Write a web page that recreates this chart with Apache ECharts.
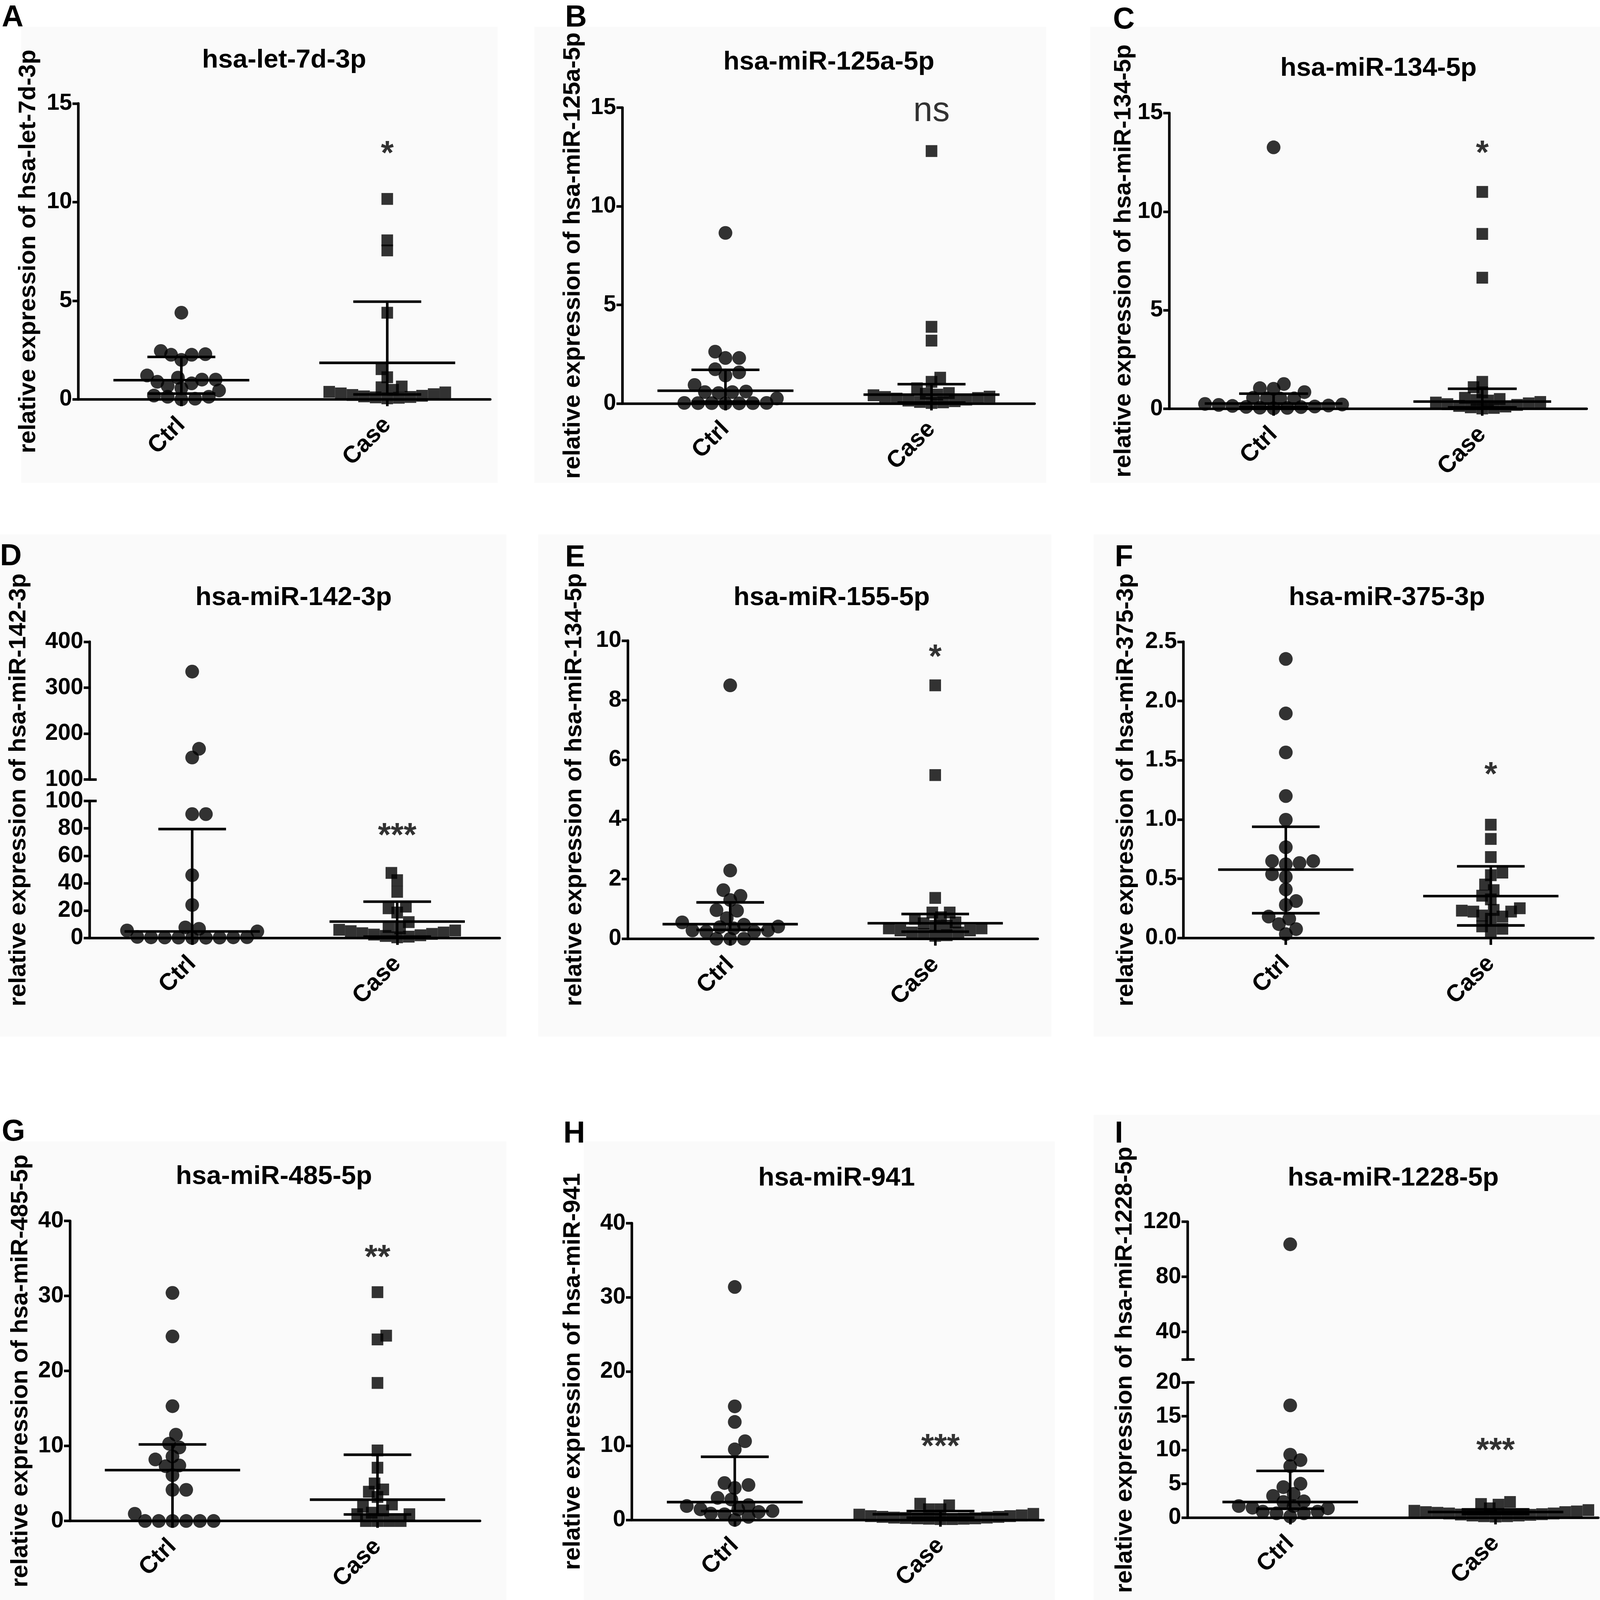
<!DOCTYPE html>
<html>
<head>
<meta charset="utf-8">
<script src="https://cdn.jsdelivr.net/npm/echarts@6/dist/echarts.min.js"></script>
<style>
  html, body { margin: 0; padding: 0; background: #fff; overflow: hidden; }
  #chart { width: 100vw; height: 100vh; }
</style>
</head>
<body>
<div id="chart"></div>
<script>
// ===== data =====
const groups = ['Ctrl', 'Case'];
const letters = ['A', 'B', 'C', 'D', 'E', 'F', 'G', 'H', 'I'];
const titles = ['hsa-let-7d-3p', 'hsa-miR-125a-5p', 'hsa-miR-134-5p', 'hsa-miR-142-3p', 'hsa-miR-155-5p',
                'hsa-miR-375-3p', 'hsa-miR-485-5p', 'hsa-miR-941', 'hsa-miR-1228-5p'];
const yNames = ['relative expression of hsa-let-7d-3p', 'relative expression of hsa-miR-125a-5p',
                'relative expression of hsa-miR-134-5p', 'relative expression of hsa-miR-142-3p',
                'relative expression of hsa-miR-134-5p', 'relative expression of hsa-miR-375-3p',
                'relative expression of hsa-miR-485-5p', 'relative expression of hsa-miR-941',
                'relative expression of hsa-miR-1228-5p'];

const ctrlA = [4.39, 2.45, 2.26, 2.0, 2.26, 2.29, 1.21, 1.0, 1.0, 1.1, 0.81, 0.56, 0.45, 0.68, 0.89, 0.19, 0.13, 0.0, 0.03, 0.13];
const caseA = [10.16, 8.06, 7.55, 4.39, 1.53, 1.12, 0.61, 0.65, 0.48, 0.38, 0.3, 0.22, 0.15, 0.1, 0.05, 0.08, 0.12, 0.18, 0.26, 0.35];
const barsA = [[0.29, 0.97, 2.15], [0.25, 1.85, 4.95]];

const ctrlB = [8.65, 2.63, 2.31, 2.31, 1.74, 1.58, 1.42, 0.94, 0.58, 0.53, 0.58, 0.61, 0.26, 0.02, 0.03, 0.01, 0.02, 0.03, 0.02, 0.01];
const caseB = [12.8, 3.89, 3.19, 1.31, 1.1, 0.77, 0.53, 0.5, 0.42, 0.35, 0.28, 0.2, 0.12, 0.06, 0.03, 0.08, 0.15, 0.25, 0.33, 0.45];
const barsB = [[0.1, 0.65, 1.71], [0.05, 0.45, 0.98]];

const ctrlC = [13.26, 1.26, 1.05, 1.02, 0.85, 0.56, 0.52, 0.53, 0.53, 0.25, 0.2, 0.15, 0.1, 0.06, 0.03, 0.05, 0.09, 0.12, 0.17, 0.22];
const caseC = [11.0, 8.87, 6.65, 1.37, 1.1, 0.84, 0.56, 0.5, 0.42, 0.35, 0.28, 0.2, 0.12, 0.05, 0.02, 0.08, 0.15, 0.24, 0.32, 0.45];
const barsC = [[0.1, 0.27, 0.77], [0.08, 0.37, 1.02]];

const ctrlD = [335, 148, 167, 90.4, 90.4, 45.8, 24.1, 7.7, 5.5, 6.7, 4.8, 0.3, 0.5, 0.4, 0.2, 0.1, 0.3, 0.5, 0.6, 0.8];
const caseD = [47.5, 42.2, 33.7, 21.7, 22.9, 18.6, 11.6, 8.0, 5.5, 7.0, 6.0, 5.0, 4.0, 3.0, 2.0, 1.0, 0.5, 1.5, 2.5, 3.5];
const barsD = [[0, 4.8, 79.5], [1, 12, 26.5]];

const ctrlE = [8.5, 2.29, 1.63, 1.44, 1.3, 0.94, 0.96, 0.69, 0.47, 0.39, 0.55, 0.41, 0.28, 0.24, 0.28, 0.35, 0.24, 0.0, 0.0, 0.0];
const caseE = [8.5, 5.49, 1.37, 0.88, 0.88, 0.72, 0.67, 0.55, 0.44, 0.35, 0.28, 0.21, 0.16, 0.1, 0.12, 0.21, 0.28, 0.35, 0.43, 0.52];
const barsE = [[0.3, 0.49, 1.22], [0.24, 0.52, 0.83]];

const ctrlF = [2.355, 1.895, 1.566, 1.198, 0.998, 0.766, 0.649, 0.633, 0.622, 0.649, 0.538, 0.516, 0.41, 0.279, 0.312, 0.181, 0.162, 0.117, 0.075, 0.033];
const caseF = [0.956, 0.836, 0.683, 0.53, 0.552, 0.451, 0.404, 0.326, 0.357, 0.237, 0.223, 0.231, 0.223, 0.251, 0.181, 0.162, 0.19, 0.098, 0.078, 0.056];
const barsF = [[0.209, 0.577, 0.939], [0.106, 0.354, 0.605]];

const ctrlG = [30.4, 24.6, 15.3, 11.5, 10.3, 9.8, 8.2, 8.6, 7.3, 7.4, 6.1, 4.15, 4.15, 0.96, 0, 0, 0, 0, 0, 0];
const caseG = [30.5, 24.2, 24.7, 18.4, 9.4, 7.1, 5.0, 3.9, 4.2, 3.2, 1.9, 2.2, 1.1, 0.9, 0.9, 1.4, 0, 0, 0, 0];
const barsG = [[0, 6.78, 10.2], [0.87, 2.84, 8.83]];

const ctrlH = [31.4, 15.3, 13.2, 10.6, 9.5, 4.7, 4.96, 4.3, 2.96, 2.74, 1.86, 1.99, 1.42, 1.06, 0.75, 0.84, 1.19, 1.42, 0, 0.4];
const caseH = [1.42, 1.95, 2.17, 1.42, 0.8, 0.6, 0.5, 0.4, 0.3, 0.25, 0.2, 0.15, 0.1, 0.1, 0.15, 0.2, 0.3, 0.4, 0.5, 0.7];
const barsH = [[1.19, 2.39, 8.5], [0.3, 0.75, 1.19]];

const ctrlI = [103.6, 16.6, 9.3, 8.5, 7.6, 5.0, 4.5, 3.5, 3.2, 2.4, 2.3, 1.7, 1.45, 1.36, 1.7, 0.87, 0.63, 0.63, 0.87, 0.15];
const caseI = [1.36, 2.0, 2.3, 1.9, 1.0, 0.9, 0.8, 0.7, 0.6, 0.5, 0.4, 0.3, 0.2, 0.15, 0.2, 0.3, 0.45, 0.6, 0.8, 1.1];
const barsI = [[1.3, 2.3, 6.9], [0.5, 0.82, 1.2]];

const sigLabels = ['*', 'ns', '*', '***', '*', '*', '**', '***', '***'];
const sigValues = [12.8, 14.65, 13.3, 79.5, 9.67, 1.435, 36, 10.8, 10.9];

// y axis: [min, max, interval] of the main (lower) segment
const yAxisMain = [[0, 15, 5], [0, 15, 5], [0, 15, 5], [0, 100, 20], [0, 10, 2], [0, 2.5, 0.5], [0, 40, 10], [0, 40, 10], [0, 20, 5]];
// upper segments of the broken axes
const upperD = [100, 400, 100];
const upperI = [20, 120];
const upperTicksI = [20, 40, 80, 120];
const upperLabelsI = [40, 80, 120];

// ===== layout (reference pixels, scaled to the window) =====
const REF_W = 4550, REF_H = 4191;
const el = document.getElementById('chart');
const kx = (el.clientWidth || REF_W) / REF_W;
const ky = (el.clientHeight || REF_H) / REF_H;
const k = Math.sqrt(kx * ky);
const X = v => v * kx, Y = v => v * ky, S = v => v * k;

const FONT = '"Liberation Sans", Arial, Helvetica, sans-serif';
const LW = S(7);
const DOT_W = X(39), DOT_H = Y(36);
const SQ_W = X(33), SQ_H = Y(31);
const MID_HALF = 0.33, CAP_HALF = 0.165;

const panels = [
  { ctrl: ctrlA, cas: caseA, bars: barsA, grid: [223, 271, 1171, 775], nameGap: 108, title: [808, 158], letter: [5, 8], bg: [60, 70, 1355, 1195] },
  { ctrl: ctrlB, cas: caseB, bars: barsB, grid: [1770, 282, 1172, 775], nameGap: 106, title: [2357, 163], letter: [1607, 8], bg: [1520, 70, 1455, 1195] },
  { ctrl: ctrlC, cas: caseC, bars: barsC, grid: [3325, 296, 1187, 775], nameGap: 90, title: [3920, 179], letter: [3165, 14], bg: [3100, 70, 1450, 1195] },
  { ctrl: ctrlD, cas: caseD, bars: barsD, grid: [255, 2098, 1166, 359], upper: [255, 1681, 1166, 361], upRange: upperD, brk: 100,
    nameAt: [53, 2069], title: [835, 1566], letter: [0, 1419], bg: [0, 1400, 1440, 1315] },
  { ctrl: ctrlE, cas: caseE, bars: barsE, grid: [1785, 1678, 1166, 781], nameGap: 116, title: [2365, 1566], letter: [1607, 1423], bg: [1530, 1400, 1460, 1315] },
  { ctrl: ctrlF, cas: caseF, bars: barsF, grid: [3365, 1681, 1166, 776], nameGap: 128, title: [3944, 1566], letter: [3170, 1423], bg: [3110, 1400, 1440, 1315], fixed: 1 },
  { ctrl: ctrlG, cas: caseG, bars: barsG, grid: [199, 3198, 1166, 786], nameGap: 106, title: [779, 3082], letter: [5, 2927], bg: [0, 2990, 1440, 1201] },
  { ctrl: ctrlH, cas: caseH, bars: barsH, grid: [1797, 3204, 1170, 777], nameGap: 133, title: [2379, 3086], letter: [1602, 2932], bg: [1660, 2990, 1340, 1201] },
  { ctrl: ctrlI, cas: caseI, bars: barsI, grid: [3377, 3621, 1168, 354], upper: [3377, 3200, 1168, 361], upRange: upperI, brk: 20,
    nameAt: [3199, 3588], title: [3962, 3086], letter: [3170, 2932], bg: [3110, 2920, 1440, 1271] },
];

const option = {
  animation: false,
  backgroundColor: '#ffffff',
  textStyle: { fontFamily: FONT },
  grid: [], xAxis: [], yAxis: [], series: [], graphic: []
};

const blackLine = { color: '#000', width: LW };
const tickFont = { color: '#000', fontSize: X(65), fontWeight: 'bold', fontFamily: FONT };
const yNameFont = { color: '#000', fontSize: Y(63), fontWeight: 'bold', fontFamily: FONT };

// Prism-like column scatter: lowest values in the middle, pushed sideways on collision
function swarm(values, gx, pxPerY, pxPerX, w, h) {
  const order = values.map((v, i) => i).sort((a, b) => values[a] - values[b]);
  const placed = [];
  const pts = [];
  order.forEach(i => {
    const py = values[i] * pxPerY;
    const right = placed.filter(p => p.x > 1).length;
    const left = placed.filter(p => p.x < -1).length;
    const sign = right > left ? -1 : 1;
    let chosen = 0;
    for (let n = 0; n < 160; n++) {
      const m = Math.ceil(n / 2) * (n % 2 ? 1 : -1) * sign;
      const cx = m * w / 4;
      const hit = placed.some(p => ((p.x - cx) / w) ** 2 + ((p.y - py) / h) ** 2 < 0.62);
      if (!hit) { chosen = cx; break; }
    }
    placed.push({ x: chosen, y: py });
    pts.push([gx + chosen / pxPerX, values[i]]);
  });
  return pts;
}

function renderBars(params, api) {
  const x = api.value(0), lo = api.value(1), mid = api.value(2), hi = api.value(3);
  const seg = (x1, v1, x2, v2) => {
    const a = api.coord([x1, v1]), b = api.coord([x2, v2]);
    return { type: 'line', shape: { x1: a[0], y1: a[1], x2: b[0], y2: b[1] }, style: { stroke: '#000', lineWidth: LW } };
  };
  return {
    type: 'group',
    children: [
      seg(x, lo, x, hi),
      seg(x - MID_HALF, mid, x + MID_HALF, mid),
      seg(x - CAP_HALF, hi, x + CAP_HALF, hi),
      seg(x - CAP_HALF, lo, x + CAP_HALF, lo)
    ]
  };
}

// short inward stroke where an axis is broken
function renderBreak(params, api) {
  const p = api.coord([0.5, api.value(0)]);
  return { type: 'line', shape: { x1: p[0] - X(2), y1: p[1], x2: p[0] + X(20), y2: p[1] }, style: { stroke: '#000', lineWidth: LW } };
}

function addAxes(rect, yCfg, showX) {
  option.grid.push({ left: X(rect[0]), top: Y(rect[1]), width: X(rect[2]), height: Y(rect[3]) });
  const gi = option.grid.length - 1;
  option.xAxis.push({
    gridIndex: gi, type: 'value', min: 0.5, max: 2.5, show: showX,
    axisLine: { show: true, onZero: false, lineStyle: blackLine },
    axisTick: { show: true, customValues: [1, 2], length: Y(18), lineStyle: blackLine },
    axisLabel: {
      show: true, customValues: [1, 2], rotate: 45, margin: S(60),
      formatter: v => groups[Math.round(v) - 1],
      color: '#000', fontSize: S(65), fontWeight: 'bold', fontFamily: FONT
    },
    splitLine: { show: false }
  });
  option.yAxis.push(Object.assign({
    gridIndex: gi, type: 'value',
    axisLine: { show: true, onZero: false, lineStyle: blackLine },
    axisTick: { show: true, length: X(17), lineStyle: blackLine },
    axisLabel: Object.assign({ margin: X(18) }, tickFont),
    splitLine: { show: false }
  }, yCfg));
  return gi;
}

function dots(ai, data, isCase) {
  return {
    type: 'scatter', xAxisIndex: ai, yAxisIndex: ai, z: 3,
    symbol: isCase ? 'rect' : 'circle',
    symbolSize: isCase ? [SQ_W, SQ_H] : [DOT_W, DOT_H],
    itemStyle: { color: '#000' }, data: data
  };
}

panels.forEach((p, n) => {
  const [yMin, yMax, yStep] = yAxisMain[n];
  const yCfg = { min: yMin, max: yMax, interval: yStep };
  if (p.fixed) yCfg.axisLabel = Object.assign({ margin: X(18), formatter: v => v.toFixed(p.fixed) }, tickFont);
  if (!p.upper) {
    Object.assign(yCfg, {
      name: yNames[n], nameLocation: 'middle', nameRotate: 90, nameGap: X(p.nameGap), nameTextStyle: yNameFont
    });
  }
  const ai = addAxes(p.grid, yCfg, true);
  const pxPerY = Y(p.grid[3]) / (yMax - yMin);
  const pxPerX = X(p.grid[2]) / 2;

  const lowCtrl = p.upper ? p.ctrl.filter(v => v <= p.brk) : p.ctrl;
  const lowCase = p.upper ? p.cas.filter(v => v <= p.brk) : p.cas;

  option.series.push(
    dots(ai, swarm(lowCtrl, 1, pxPerY, pxPerX, DOT_W, DOT_H), false),
    dots(ai, swarm(lowCase, 2, pxPerY, pxPerX, SQ_W, SQ_H), true),
    { type: 'custom', xAxisIndex: ai, yAxisIndex: ai, renderItem: renderBars, clip: false, z: 4,
      data: [[1].concat(p.bars[0]), [2].concat(p.bars[1])] },
    { type: 'scatter', xAxisIndex: ai, yAxisIndex: ai, symbolSize: 1, itemStyle: { color: 'rgba(0,0,0,0)' },
      data: [[2, sigValues[n]]],
      label: sigLabels[n] === 'ns'
        ? { show: true, position: 'inside', formatter: sigLabels[n], color: '#000', fontSize: X(98), fontWeight: 'normal', fontFamily: FONT, offset: [0, -Y(8)] }
        : { show: true, position: 'inside', formatter: sigLabels[n], color: '#000', fontSize: X(94), fontWeight: 'bold', fontFamily: FONT, offset: [0, Y(21)] } }
  );

  if (p.upper) {
    const [uMin, uMax, uStep] = p.upRange;
    const uCfg = { min: uMin, max: uMax };
    if (uStep) {
      uCfg.interval = uStep;
    } else {
      uCfg.axisTick = { show: true, customValues: upperTicksI, length: X(17), lineStyle: blackLine };
      uCfg.axisLabel = Object.assign({ margin: X(18), customValues: upperLabelsI }, tickFont);
    }
    const ui = addAxes(p.upper, uCfg, false);
    const upPxY = Y(p.upper[3]) / (uMax - uMin);
    const upPxX = X(p.upper[2]) / 2;
    option.series.push(
      dots(ui, swarm(p.ctrl.filter(v => v > p.brk), 1, upPxY, upPxX, DOT_W, DOT_H), false),
      dots(ui, swarm(p.cas.filter(v => v > p.brk), 2, upPxY, upPxX, SQ_W, SQ_H), true),
      { type: 'custom', xAxisIndex: ui, yAxisIndex: ui, renderItem: renderBreak, clip: false, data: [[uMin]] },
      { type: 'custom', xAxisIndex: ai, yAxisIndex: ai, renderItem: renderBreak, clip: false, data: [[yMax]] }
    );
    option.graphic.push({
      type: 'text', x: X(p.nameAt[0]), y: Y(p.nameAt[1]), rotation: Math.PI / 2, z: 100,
      style: { text: yNames[n], fill: '#000', font: 'bold ' + Y(63) + 'px ' + FONT,
               align: 'center', verticalAlign: 'middle', textAlign: 'center', textVerticalAlign: 'middle' }
    });
  }

  option.graphic.push(
    { type: 'rect', z: -100, shape: { x: X(p.bg[0]), y: Y(p.bg[1]), width: X(p.bg[2]), height: Y(p.bg[3]) },
      style: { fill: '#fafafa' } },
    { type: 'text', x: X(p.title[0]), y: Y(p.title[1]), z: 100,
      style: { text: titles[n], fill: '#000', font: 'bold ' + X(75) + 'px ' + FONT,
               align: 'center', verticalAlign: 'middle', textAlign: 'center', textVerticalAlign: 'middle' } },
    { type: 'text', x: X(p.letter[0]), y: Y(p.letter[1]), z: 100,
      style: { text: letters[n], fill: '#000', font: 'bold ' + S(82) + 'px ' + FONT,
               align: 'left', verticalAlign: 'top', textAlign: 'left', textVerticalAlign: 'top' } }
  );
});

const chart = echarts.init(el);
chart.setOption(option);
window.addEventListener('resize', () => chart.resize());
</script>
</body>
</html>
